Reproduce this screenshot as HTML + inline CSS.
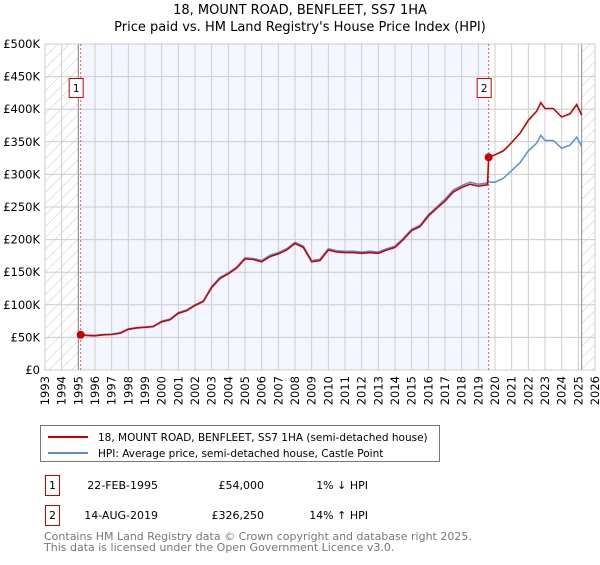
<!DOCTYPE html>
<html><head><meta charset="utf-8"><style>
body{margin:0;background:#fff;font-family:"Liberation Sans","DejaVu Sans",sans-serif;}
svg text{font-family:"DejaVu Sans","Liberation Sans",sans-serif;}
</style></head><body>
<svg id="chart" width="600" height="560" xmlns="http://www.w3.org/2000/svg">
<defs><pattern id="hatch" width="8" height="8" patternUnits="userSpaceOnUse" patternTransform="rotate(45)"><line x1="0" y1="0" x2="0" y2="8" stroke="#bbb" stroke-width="0.8"/></pattern></defs>
<text x="300" y="14" text-anchor="middle" font-size="13" fill="#000">18, MOUNT ROAD, BENFLEET, SS7 1HA</text>
<text x="300" y="31" text-anchor="middle" font-size="13" fill="#000">Price paid vs. HM Land Registry's House Price Index (HPI)</text>
<g id="plot"></g>
<g>
<rect x="40.5" y="425.5" width="399" height="36" fill="#fff" stroke="#777"/>
<line x1="48" y1="437" x2="88" y2="437" stroke="#cc0000" stroke-width="2"/>
<text x="98" y="441" font-size="10.5">18, MOUNT ROAD, BENFLEET, SS7 1HA (semi-detached house)</text>
<line x1="48" y1="453" x2="88" y2="453" stroke="#5b8fd0" stroke-width="2"/>
<text x="98" y="457" font-size="10.5">HPI: Average price, semi-detached house, Castle Point</text>
</g>
<g font-size="11">
<rect x="45.5" y="475.5" width="14" height="20" fill="#fff" stroke="#cc0000"/>
<text x="52.5" y="489" text-anchor="middle">1</text>
<text x="158" y="489" text-anchor="end">22-FEB-1995</text>
<text x="264" y="489" text-anchor="end">£54,000</text>
<text x="368" y="489" text-anchor="end">1% ↓ HPI</text>
<rect x="45.5" y="505.5" width="14" height="20" fill="#fff" stroke="#cc0000"/>
<text x="52.5" y="519" text-anchor="middle">2</text>
<text x="158" y="519" text-anchor="end">14-AUG-2019</text>
<text x="264" y="519" text-anchor="end">£326,250</text>
<text x="368" y="519" text-anchor="end">14% ↑ HPI</text>
</g>
<text x="44" y="540" font-size="11" fill="#777">Contains HM Land Registry data © Crown copyright and database right 2025.</text>
<text x="44" y="551" font-size="11" fill="#777">This data is licensed under the Open Government Licence v3.0.</text>
</svg>
<script>
const dates=[1995.14,1995.5,1996,1996.5,1997,1997.5,1998,1998.5,1999,1999.5,2000,2000.5,2001,2001.5,2002,2002.5,2003,2003.5,2004,2004.5,2005,2005.5,2006,2006.5,2007,2007.5,2008,2008.5,2009,2009.5,2010,2010.5,2011,2011.5,2012,2012.5,2013,2013.5,2014,2014.5,2015,2015.5,2016,2016.5,2017,2017.5,2018,2018.5,2019,2019.55,2019.62,2020,2020.5,2021,2021.5,2022,2022.5,2022.75,2023,2023.5,2024,2024.5,2024.9,2025.2];
const hpiValues=[54.5,53.5,53,54.5,55,57,63,65,66,67,75,78,88,92,100,106,128,142,149,158,172,171,168,176,180,186,196,190,168,170,186,183,182,182,181,182,181,186,190,202,216,222,238,250,262,276,283,288,285,287,288,288,294,306,318,336,348,360,352,352,340,345,357,343];
const priceValues=[54,53,52.5,54,54.5,56.5,62.5,64.5,65.5,66.5,74,77,87,91,99,105,126.5,140.5,147.5,156.5,170.5,169.5,166,174,178,184,194,188,166,168,184,181,180,180,179,180,179,184,188,200,214,220,236,248,259,273,280,285,282,284,326.25,330,336,349,363,383,397,410,401,401,388,393,407,391];
const saleDates=[1995.14,2019.62];
const salePrices=[54,326.25];
const saleLabels=["1","2"];
const yTicks=[0,50,100,150,200,250,300,350,400,450,500];
const yTickLabels=["£0","£50K","£100K","£150K","£200K","£250K","£300K","£350K","£400K","£450K","£500K"];
const xTicks=[];for(let y=1993;y<=2026;y++)xTicks.push(y);

const X0=45,X1=595,Y0=370,Y1=44;
const xs=t=>X0+(t-1993)/(2026-1993)*(X1-X0);
const ys=v=>Y0-v/500*(Y0-Y1);
const NS="http://www.w3.org/2000/svg";
const g=document.getElementById('plot');
function mk(tag,attrs,parent){const e=document.createElementNS(NS,tag);for(const k in attrs)e.setAttribute(k,attrs[k]);(parent||g).appendChild(e);return e;}

let e=mk('rect',{x:xs(saleDates[0]),y:Y1,width:xs(saleDates[1])-xs(saleDates[0]),height:Y0-Y1,fill:'#f3f6fe'});


e=mk('rect',{x:X0,y:Y1,width:xs(1995)-X0,height:Y0-Y1,fill:'url(#hatch)'});


e=mk('rect',{x:xs(2025.2),y:Y1,width:X1-xs(2025.2),height:Y0-Y1,fill:'url(#hatch)'});



xTicks.forEach(t=>{
  const l=mk('line',{x1:xs(t),x2:xs(t),y1:Y1,y2:Y0,stroke:'#ccc','stroke-width':1});
  
  
  const tx=mk('text',{x:0,y:0,'font-size':'11.5','text-anchor':'end',transform:`translate(${xs(t)+4},${Y0+6}) rotate(-90)`});
  tx.textContent=t;
  
  
});
yTicks.forEach((v,i)=>{
  const l=mk('line',{x1:X0,x2:X1,y1:ys(v),y2:ys(v),stroke:'#ccc','stroke-width':1});
  
  
  const tx=mk('text',{x:X0-5,y:ys(v)+4,'font-size':'11.5','text-anchor':'end'});
  tx.textContent=yTickLabels[i];
  
  
});
e=mk('line',{x1:xs(1995),x2:xs(1995),y1:Y1,y2:Y0,stroke:'#888'});


e=mk('line',{x1:xs(2025.2),x2:xs(2025.2),y1:Y1,y2:Y0,stroke:'#888'});


e=mk('rect',{x:X0,y:Y1,width:X1-X0,height:Y0-Y1,fill:'none',stroke:'#ccc'});



saleDates.forEach((d,i)=>{
  const l=mk('line',{x1:xs(d),x2:xs(d),y1:Y1,y2:Y0,stroke:'#e06060','stroke-dasharray':'2,2'});
  
  
});

const pts=a=>dates.map((d,i)=>xs(d).toFixed(1)+','+ys(a[i]).toFixed(1)).join(' ');
e=mk('polyline',{points:pts(hpiValues),fill:'none',stroke:'#5b8fd0','stroke-width':1.5});


e=mk('polyline',{points:pts(priceValues),fill:'none',stroke:'#cc0000','stroke-width':1.6});



saleDates.forEach((d,i)=>{
  const c=mk('circle',{cx:xs(d),cy:ys(salePrices[i]),r:4,fill:'#cc0000'});
  
  
  const r=mk('rect',{x:xs(d)-11.5,y:78.5,width:14,height:19,fill:'#fff',stroke:'#cc0000'});
  
  
  const t=mk('text',{x:xs(d)-4.5,y:92,'font-size':'10.5','text-anchor':'middle'});
  t.textContent=saleLabels[i];
  
  
});
</script>
</body></html>
